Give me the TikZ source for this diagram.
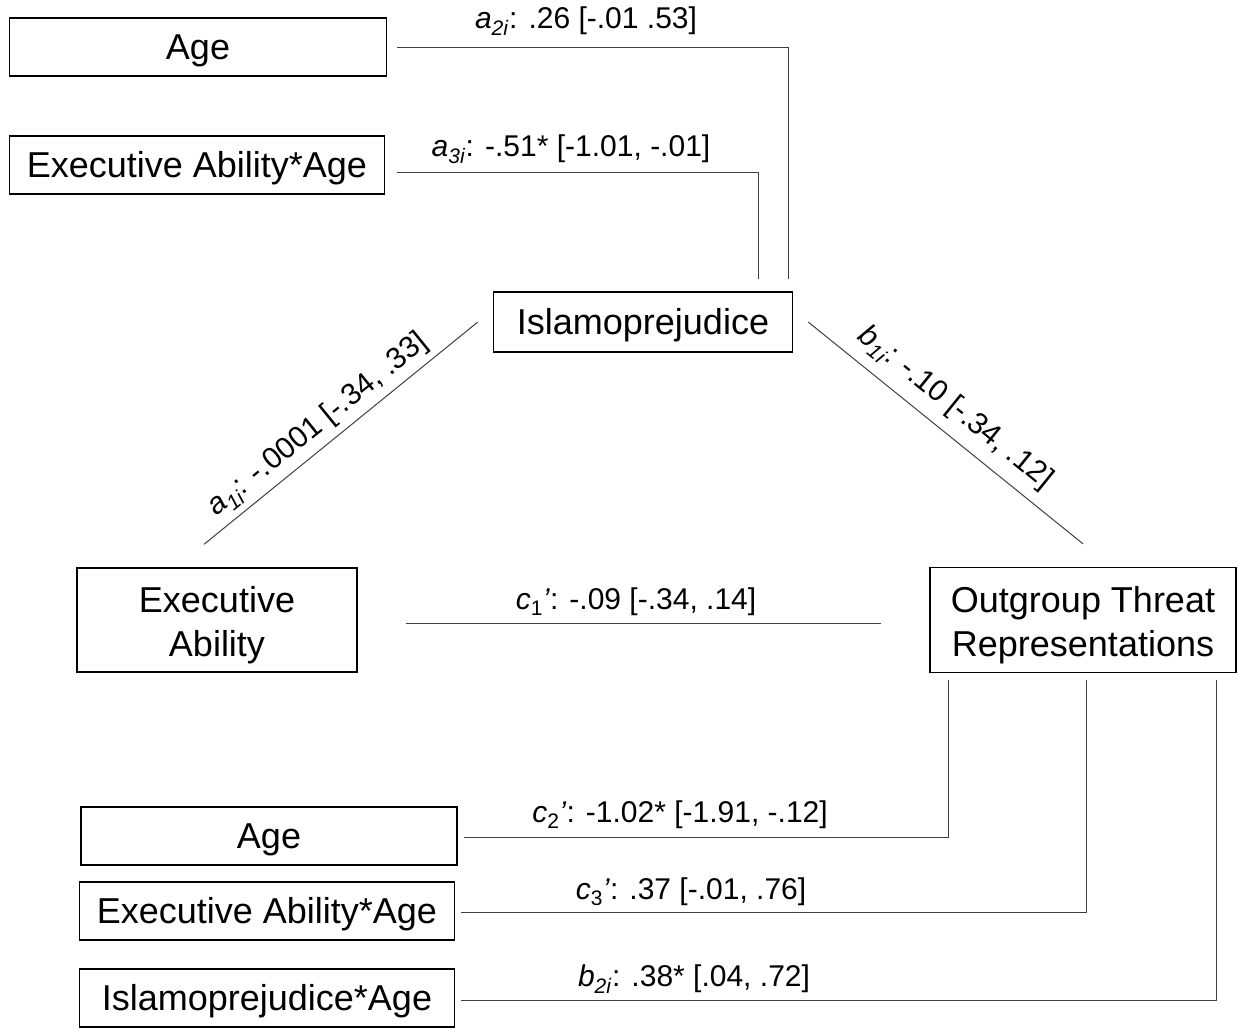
\documentclass[tikz,border=0pt]{standalone}
\usepackage{fontspec}
\setmainfont{Liberation Sans}
\usepackage{tikz}

\begin{document}
\begin{tikzpicture}[x=1pt,y=-1pt,
    var_node/.style={draw,line width=1.4pt,inner sep=0pt,minimum height=58pt,align=center,font=\fontsize{36}{44}\selectfont},
    var_line/.style={var_node,text height=33.5pt,text depth=7.7pt},
    path_label/.style={inner sep=0pt,font=\fontsize{30}{34}\selectfont},
    path_line/.style={draw=black!75,line width=1pt}]
    \useasboundingbox (0,0) rectangle (1239,1029);

    \node[var_line,minimum width=377pt] (age1) at (198,47) {Age};
    \node[var_line,minimum width=375pt] (exage1) at (197,165) {Executive Ability*Age};
    \node[var_line,minimum width=299pt,minimum height=60pt] (islam) at (643,322) {Islamoprejudice};
    \node[var_node,minimum width=280pt,minimum height=104pt] (exec) at (217,620) {\rule{0pt}{36pt}Executive\\Ability};
    \node[var_node,minimum width=306pt,minimum height=105pt] (threat) at (1083,620) {\rule{0pt}{36pt}Outgroup Threat\\Representations};
    \node[var_line,minimum width=376pt] (age2) at (269,836) {Age};
    \node[var_line,minimum width=375pt] (exage2) at (267,911) {Executive Ability*Age};
    \node[var_line,minimum width=375pt] (islamage) at (267,998) {Islamoprejudice*Age};

    \node[path_label] (a2) at (586,21) {\textit{a}\textsubscript{\textit{2i}}: .26 [-.01 .53]};
    \node[path_label] (a3) at (571,149) {\textit{a}\textsubscript{\textit{3i}}: -.51* [-1.01, -.01]};
    \node[path_label,rotate=39] (a1) at (318,425) {\textit{a}\textsubscript{\textit{1i}}: -.0001 [-.34, .33]};
    \node[path_label,rotate=-39] (b1) at (955,408) {\textit{b}\textsubscript{\textit{1i}}: -.10 [-.34, .12]};
    \node[path_label] (c1) at (636,602) {\textit{c}\textsubscript{1}\textit{’}: -.09 [-.34, .14]};
    \node[path_label] (c2) at (680,815) {\textit{c}\textsubscript{2}\textit{’}: -1.02* [-1.91, -.12]};
    \node[path_label] (c3) at (691,892) {\textit{c}\textsubscript{3}\textit{’}: .37 [-.01, .76]};
    \node[path_label] (b2) at (694,979) {\textit{b}\textsubscript{\textit{2i}}: .38* [.04, .72]};

    \draw[path_line,shorten <=10pt,shorten >=12pt] (age1.east) -| ([xshift=145pt]islam.north);
    \draw[path_line,shorten <=12pt,shorten >=12pt] ([yshift=-7pt]exage1.east) -| ([xshift=115pt]islam.north);
    \draw[path_line] ([shift={(-13pt,23pt)}]exec.north) -- ([xshift=-15pt]islam.west);
    \draw[path_line] ([xshift=15pt]islam.east) -- ([yshift=23pt]threat.north);
    \draw[path_line,shorten <=48pt,shorten >=48pt] ([yshift=-3pt]exec.east) -- ([yshift=-3pt]threat.west);
    \draw[path_line,shorten <=6pt,shorten >=7pt] ([yshift=-1pt]age2.east) -| ([xshift=-135pt]threat.south);
    \draw[path_line,shorten <=6pt,shorten >=7pt] ([yshift=-1pt]exage2.east) -| ([xshift=3pt]threat.south);
    \draw[path_line,shorten <=6pt,shorten >=7pt] ([yshift=-2pt]islamage.east) -| ([xshift=133pt]threat.south);
\end{tikzpicture}
\end{document}
